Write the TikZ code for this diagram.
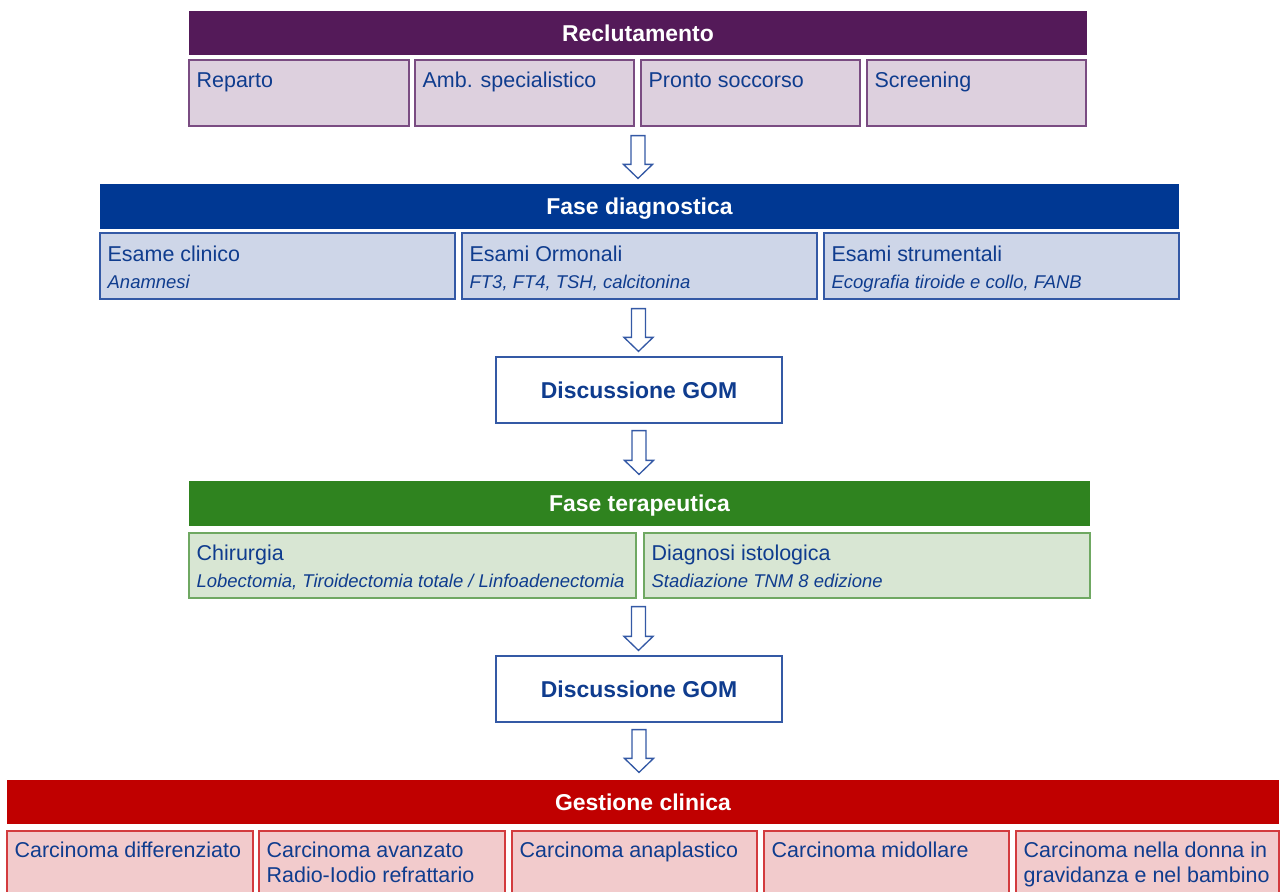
\documentclass[tikz,border=0pt]{standalone}
\usepackage{fontspec}
\setmainfont{Liberation Sans}
\usetikzlibrary{calc,fit}

% palette
\definecolor{txtblue}{HTML}{0F3C8E}
\definecolor{purD}{HTML}{541A59}
\definecolor{purL}{HTML}{DDD0DE}
\definecolor{purB}{HTML}{7A4C82}
\definecolor{bluD}{HTML}{003893}
\definecolor{bluL}{HTML}{CED6E8}
\definecolor{bluB}{HTML}{3459A5}
\definecolor{grnD}{HTML}{2F831F}
\definecolor{grnL}{HTML}{D8E6D3}
\definecolor{grnB}{HTML}{6FA862}
\definecolor{redD}{HTML}{C00000}
\definecolor{redL}{HTML}{F2CBCC}
\definecolor{redB}{HTML}{D33B3E}

\tikzset{
  cell/.style={inner sep=0pt, line width=0.9pt},
  hdrtxt/.style={anchor=base, text=white, font=\fontsize{17.2}{20}\selectfont\bfseries, inner sep=0pt},
  maintxt/.style={anchor=base west, text=txtblue, font=\fontsize{16.1}{19}\selectfont, inner sep=0pt},
  subtxt/.style={anchor=base west, text=txtblue, font=\fontsize{13.85}{17}\selectfont\itshape, inner sep=0pt},
  gomtxt/.style={anchor=base, text=txtblue, font=\fontsize{17.2}{20}\selectfont\bfseries, inner sep=0pt},
  blockarrow/.style={draw=bluB, fill=white, line width=1pt, line join=miter},
}

% outlined block arrow between two points (pt values from let)
\newcommand\flowarrow[2]{%
  \path[blockarrow] let \p1=(#1), \p2=(#2) in
    (\x1-5.25pt,\y1) -- (\x1+5.25pt,\y1) -- (\x1+5.25pt,\y2+10.5pt)
    -- (\x1+10.9pt,\y2+10.5pt) -- (\x1,\y2) -- (\x1-10.9pt,\y2+10.5pt)
    -- (\x1-5.25pt,\y2+10.5pt) -- cycle;}

\begin{document}
\begin{tikzpicture}[x=0.75pt,y=-0.75pt]
\useasboundingbox (0,0) rectangle (1282,892);
\clip (0,0) rectangle (1282,892);

% ---------- Reclutamento ----------
\node[cell, fill=purD, fit={(189,11) (1087,55)}] (rec) {};
\node[hdrtxt] (rec-t) at ($(rec.center)+(0,8.3)$) {Reclutamento};
\node[cell, draw=purB, fill=purL, fit={(189,60) (409,126)}] (rep) {};
\node[cell, draw=purB, fill=purL, fit={(415,60) (634,126)}] (amb) {};
\node[cell, draw=purB, fill=purL, fit={(641,60) (860,126)}] (ps) {};
\node[cell, draw=purB, fill=purL, fit={(867,60) (1086,126)}] (scr) {};
\node[maintxt] (rep-t) at ($(rep.north west)+(8,28)$) {Reparto};
\node[maintxt] (amb-t) at ($(amb.north west)+(8,28)$) {Amb. specialistico};
\node[maintxt] (ps-t) at ($(ps.north west)+(8,28)$) {Pronto soccorso};
\node[maintxt] (scr-t) at ($(scr.north west)+(8,28)$) {Screening};

% ---------- Fase diagnostica ----------
\node[cell, fill=bluD, fit={(100,184) (1179,229)}] (dia) {};
\node[hdrtxt] (dia-t) at ($(dia.center)+(0,8.3)$) {Fase diagnostica};
\node[cell, draw=bluB, fill=bluL, fit={(100,233) (455,299)}] (cli) {};
\node[cell, draw=bluB, fill=bluL, fit={(462,233) (817,299)}] (orm) {};
\node[cell, draw=bluB, fill=bluL, fit={(824,233) (1179,299)}] (str) {};
\node[maintxt] (cli-t) at ($(cli.north west)+(8,29)$) {Esame clinico};
\node[subtxt] (cli-s) at ($(cli.north west)+(8,56)$) {Anamnesi};
\node[maintxt] (orm-t) at ($(orm.north west)+(8,29)$) {Esami Ormonali};
\node[subtxt] (orm-s) at ($(orm.north west)+(8,56)$) {FT3, FT4, TSH, calcitonina};
\node[maintxt] (str-t) at ($(str.north west)+(8,29)$) {Esami strumentali};
\node[subtxt] (str-s) at ($(str.north west)+(8,56)$) {Ecografia tiroide e collo, FANB};

% ---------- Discussione GOM (1) ----------
\node[cell, draw=bluB, fill=white, fit={(496,357) (782,423)}] (gom1) {};
\node[gomtxt] (gom1-t) at ($(gom1.center)+(0,8.8)$) {Discussione GOM};

% ---------- Fase terapeutica ----------
\node[cell, fill=grnD, fit={(189,481) (1090,526)}] (ter) {};
\node[hdrtxt] (ter-t) at ($(ter.center)+(0,8.3)$) {Fase terapeutica};
\node[cell, draw=grnB, fill=grnL, fit={(189,533) (636,598)}] (chi) {};
\node[cell, draw=grnB, fill=grnL, fit={(644,533) (1090,598)}] (ist) {};
\node[maintxt] (chi-t) at ($(chi.north west)+(8,28)$) {Chirurgia};
\node[subtxt] (chi-s) at ($(chi.north west)+(8,55)$) {Lobectomia, Tiroidectomia totale / Linfoadenectomia};
\node[maintxt] (ist-t) at ($(ist.north west)+(8,28)$) {Diagnosi istologica};
\node[subtxt] (ist-s) at ($(ist.north west)+(8,55)$) {Stadiazione TNM 8 edizione};

% ---------- Discussione GOM (2) ----------
\node[cell, draw=bluB, fill=white, fit={(496,656) (782,722)}] (gom2) {};
\node[gomtxt] (gom2-t) at ($(gom2.center)+(0,8.8)$) {Discussione GOM};

% ---------- Gestione clinica ----------
\node[cell, fill=redD, fit={(7,780) (1279,824)}] (ges) {};
\node[hdrtxt] (ges-t) at ($(ges.center)+(0,8.3)$) {Gestione clinica};
\node[cell, draw=redB, fill=redL, fit={(7,831) (253,905)}] (dif) {};
\node[cell, draw=redB, fill=redL, fit={(259,831) (505,905)}] (avz) {};
\node[cell, draw=redB, fill=redL, fit={(512,831) (757,905)}] (ana) {};
\node[cell, draw=redB, fill=redL, fit={(764,831) (1009,905)}] (mid) {};
\node[cell, draw=redB, fill=redL, fit={(1016,831) (1279,905)}] (gra) {};
\node[maintxt] (dif-t) at ($(dif.north west)+(8,27)$) {Carcinoma differenziato};
\node[maintxt] (avz-t) at ($(avz.north west)+(8,27)$) {Carcinoma avanzato};
\node[maintxt] (avz-u) at ($(avz.north west)+(8,52)$) {Radio-Iodio refrattario};
\node[maintxt] (ana-t) at ($(ana.north west)+(8,27)$) {Carcinoma anaplastico};
\node[maintxt] (mid-t) at ($(mid.north west)+(8,27)$) {Carcinoma midollare};
\node[maintxt] (gra-t) at ($(gra.north west)+(8,27)$) {Carcinoma nella donna in};
\node[maintxt] (gra-u) at ($(gra.north west)+(8,52)$) {gravidanza e nel bambino};

% ---------- flow arrows ----------
\flowarrow{$(rec.center |- ps.south)+(0,9)$}{$(dia.north)+(0,-5)$}
\flowarrow{$(dia.center |- str.south)+(-1,9)$}{$(gom1.north)+(0,-5)$}
\flowarrow{$(gom1.south)+(0,7)$}{$(ter.north)+(0,-6)$}
\flowarrow{$(ter.center |- ist.south)+(-1,8)$}{$(gom2.north)+(0,-5)$}
\flowarrow{$(gom2.south)+(0,7)$}{$(ges.north)+(0,-7)$}
\end{tikzpicture}
\end{document}
